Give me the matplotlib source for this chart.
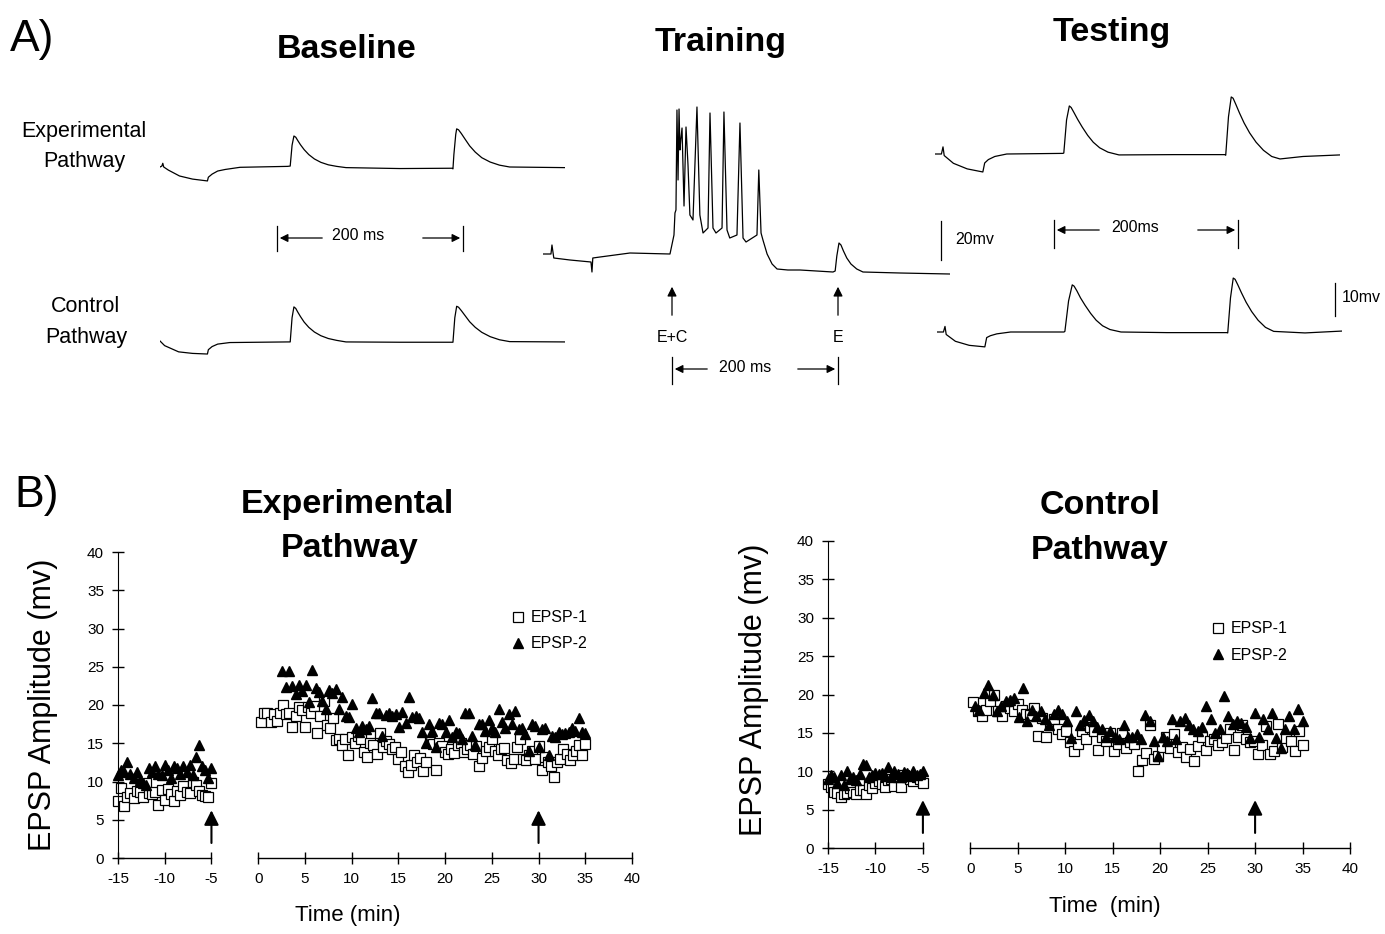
import numpy as np
import matplotlib
matplotlib.use("Agg")
import matplotlib.pyplot as plt

plt.rcParams['font.family'] = ['Liberation Sans', 'DejaVu Sans']
plt.rcParams['axes.unicode_minus'] = False

W, H = 1385, 934

# ---------------- Panel A: example traces (time in ms, potential in mV) ----------------
base_exp_t = [0, 2, 3, 4, 9, 21, 35, 51, 52, 56, 62, 70, 86, 137, 140, 142, 144, 146, 148, 151,
              155, 160, 166, 173, 181, 190, 200, 258, 314, 315, 316, 318, 319, 321, 324, 328,
              333, 339, 346, 355, 365, 376, 435]
base_exp_v = [0, 0.3, 1.2, 0, -1.0, -2.9, -3.9, -4.5, -3.3, -2.3, -1.3, -0.8, -0.1, 0.2, 0.3, 7,
              10, 9.6, 8.6, 7.2, 5.6, 4.0, 2.6, 1.5, 0.7, 0.2, -0.2, -0.5, -0.4, -0.6, 4, 10.5,
              12.3, 12.0, 10.8, 9.0, 6.8, 4.8, 3.0, 1.6, 0.6, 0, -0.2]

base_ctl_t = [0, 5, 20, 35, 51, 52, 56, 62, 75, 137, 140, 142, 144, 146, 148, 151, 155, 160, 166,
              173, 181, 190, 200, 258, 315, 317, 319, 321, 324, 328, 333, 339, 346, 355, 365,
              376, 435]
base_ctl_v = [0, -1.5, -3.5, -4.0, -4.2, -2.8, -1.8, -1.0, -0.5, -0.3, -0.3, 7.5, 11.0, 10.5,
              9.4, 7.9, 6.1, 4.4, 2.9, 1.7, 0.8, 0.2, -0.3, -0.4, -0.4, 7.5, 11.2, 10.9, 9.8,
              8.2, 6.2, 4.4, 2.8, 1.4, 0.4, -0.2, -0.3]

train_t = [0, 9.6, 10.8, 13, 32.5, 57.8, 59, 60, 68.7, 104.8, 153, 157.8, 159, 160.2, 161.4,
           162.7, 163.9, 165, 166, 167.5, 169.9, 172.3, 174.7, 177, 180.7, 185.5, 189, 192.8,
           198.8, 201.2, 204.8, 208.4, 215.7, 218, 221.7, 225, 233.7, 237.3, 241, 244.6, 257.8,
           260, 262.7, 265, 270, 276, 282, 295, 309.6, 349.4, 352, 354, 356.6, 359, 362, 366,
           371, 378, 385.5, 430, 490]
train_v = [0, 0, 4.5, -2, -3, -4, -9, -2, -1.5, 0.5, 0, 9.5, 20.5, 22, 72, 37, 72.5, 52, 57, 63,
           24, 63.5, 44.5, 19.5, 17, 73.5, 19.5, 10.5, 13, 70.5, 13, 10.5, 13, 71, 12, 8, 9.5,
           65.5, 8, 6, 9.5, 42, 10.5, 7, 0, -5, -7.5, -8, -8, -9, -8.5, -1, 5.5, 4.5, 1.5, -2,
           -5, -7.5, -9, -9.5, -10]

test_exp_t = [0, 7, 8.7, 10, 20, 35, 52, 54, 58, 65, 78, 139, 140, 143, 146, 148, 151, 155, 160,
              166, 172, 179, 188, 200, 260, 315, 316, 319, 322, 324, 327, 331, 336, 342, 349,
              357, 366, 375, 400, 440]
test_exp_v = [0, 0, 2.3, -0.5, -3.0, -4.8, -5.8, -2.9, -1.8, -0.8, 0, 0.2, 0.3, 11, 15.5, 15.0,
              13.4, 11.2, 8.7, 6.0, 3.8, 2.0, 0.6, -0.3, -0.2, -0.2, -0.4, 12, 18.4, 18.0, 16.0,
              13.2, 10.0, 6.8, 3.8, 1.2, -0.8, -1.6, -0.8, -0.3]

test_ctl_t = [0, 7, 8.7, 10, 20, 35, 52, 54, 58, 65, 80, 138, 139, 143, 147, 149, 152, 156, 161,
              167, 173, 180, 188, 200, 250, 315, 316, 319, 322, 324, 327, 331, 336, 342, 349,
              357, 366, 400, 440]
test_ctl_v = [0, 0, 1.8, -0.8, -3.0, -4.3, -4.8, -1.8, -1.2, -0.6, 0, 0, 0.2, 10, 15.2, 14.8,
              13.3, 11.0, 8.6, 6.0, 3.8, 2.0, 0.8, 0, -0.2, -0.2, -0.3, 11, 17.4, 17.0, 15.2,
              12.6, 9.6, 6.6, 3.8, 1.5, 0.2, -0.3, 0.3]

# ---------------- Panel B: EPSP amplitudes (mV) ----------------
exp_pre1 = [7.5, 9.2, 6.8, 8.0, 8.5, 7.8, 8.8, 8.6, 8.0, 9.8, 8.5, 8.4, 8.6, 6.9, 8.9, 7.6,
            9.0, 8.4, 7.5, 8.8, 8.3, 9.4, 8.6, 8.5, 9.9, 9.5, 8.7, 8.3, 8.1, 8.0, 9.8]
exp_pre2 = [10.8, 11.5, 11.3, 12.5, 11.0, 10.5, 11.2, 10.2, 9.8, 9.5, 11.8, 11.2, 12.0, 11.0,
            10.8, 12.2, 11.5, 10.5, 12.0, 11.8, 11.0, 12.0, 11.2, 12.2, 10.8, 13.2, 14.8, 12.0,
            11.5, 10.5, 11.8]
exp_post1 = [17.8, 19.0, 19.0, 17.8, 18.8, 17.9, 18.9, 20.0, 18.8, 19.0,
             17.1, 18.5, 19.8, 19.4, 17.1, 19.8, 18.9, 19.9, 16.3, 18.5,
             20.5, 17.4, 17.0, 18.3, 15.4, 15.6, 14.8, 15.5, 13.5, 15.8,
             15.0, 16.0, 15.5, 13.8, 13.2, 15.0, 14.8, 13.6, 16.4, 14.5,
             15.3, 14.9, 14.2, 14.5, 13.0, 13.8, 12.0, 11.2, 12.2, 13.5,
             12.5, 13.1, 11.4, 12.6, 15.1, 14.9, 11.5, 15.0, 14.6, 13.9,
             13.6, 14.2, 13.7, 14.8, 15.0, 13.8, 14.2, 14.8, 13.6, 14.6,
             12.0, 13.1, 14.0, 14.5, 15.6, 14.0, 13.5, 14.3, 14.4, 12.8,
             12.4, 13.0, 14.5, 15.6, 13.0, 12.8, 13.4, 14.0, 12.9, 14.6,
             11.5, 13.2, 12.6, 12.0, 10.6, 12.6, 13.0, 14.2, 13.6, 12.8,
             13.5, 14.0, 14.8, 13.4, 14.9]
exp_post2 = [24.5, 22.3, 24.5, 22.5, 21.5, 22.6, 21.8, 22.6, 20.4, 24.6,
             22.2, 21.7, 20.5, 19.5, 22.0, 21.6, 22.1, 19.5, 21.0, 18.5,
             18.4, 20.1, 17.0, 16.5, 17.3, 16.8, 17.2, 20.9, 18.9, 19.0,
             16.0, 18.7, 18.9, 18.5, 18.8, 17.1, 19.1, 17.6, 21.0, 18.4,
             18.6, 18.3, 16.5, 15.0, 17.5, 16.6, 14.5, 17.6, 17.5, 16.5,
             18.0, 15.8, 16.5, 16.3, 15.5, 19.0, 19.0, 16.0, 14.8, 17.5,
             17.5, 16.6, 18.0, 17.0, 16.5, 19.5, 17.8, 17.0, 18.8, 17.5,
             19.2, 16.8, 17.0, 16.2, 14.0, 17.5, 17.2, 14.5, 16.8, 17.0,
             13.5, 16.0, 15.8, 16.5, 16.2, 16.4, 16.5, 17.0, 16.6, 18.3,
             16.5, 16.3]

ctl_pre1 = [8.4, 8.0, 7.3, 7.2, 6.6, 7.0, 7.2, 7.8, 7.3, 7.0, 7.5, 7.6, 7.0, 8.2, 7.8, 8.5,
            8.7, 8.3, 8.0, 8.8, 9.0, 8.1, 9.2, 8.0, 9.5, 9.3, 9.0, 8.7, 9.3, 9.0, 8.5]
ctl_pre2 = [9.0, 9.5, 9.3, 8.5, 9.5, 8.2, 10.0, 9.0, 9.2, 8.8, 9.6, 11.0, 10.8, 9.2, 9.5, 9.8,
            9.6, 9.8, 9.4, 10.5, 9.2, 10.0, 9.6, 9.2, 9.9, 9.8, 9.4, 10.0, 9.5, 9.6, 10.0]
ctl_post1 = [19.0, 17.9, 17.2, 18.0, 19.2, 20.0, 17.8, 17.2, 18.5, 18.3,
             17.8, 18.8, 18.0, 17.5, 17.3, 18.2, 14.6, 17.0, 14.4, 16.0,
             16.8, 15.5, 14.8, 15.2, 13.8, 12.7, 13.5, 15.3, 14.2, 15.8,
             15.2, 12.8, 14.5, 14.0, 15.0, 12.7, 13.5, 15.0, 13.0, 13.8,
             13.5, 10.0, 11.5, 12.4, 16.0, 11.6, 12.0, 13.2, 14.5, 13.0,
             14.8, 12.5, 13.2, 11.8, 12.9, 11.3, 13.3, 14.5, 12.8, 14.0,
             14.2, 13.4, 13.8, 14.3, 15.5, 12.8, 14.5, 16.0, 14.2, 13.8,
             14.0, 12.3, 13.4, 15.9, 12.2, 12.6, 16.2, 13.2, 14.3, 14.0,
             12.6, 15.2, 13.4]
ctl_post2 = [18.5, 18.0, 20.2, 21.2, 20.0, 17.8, 18.5, 19.2, 19.3, 19.5,
             17.1, 20.9, 16.5, 18.0, 17.2, 17.8, 16.8, 16.0, 17.5, 18.0,
             17.5, 16.5, 14.3, 17.8, 16.0, 16.7, 17.3, 16.5, 15.8, 15.5,
             14.5, 15.3, 14.5, 14.2, 16.0, 14.5, 14.5, 14.8, 14.2, 17.3,
             16.5, 14.0, 12.0, 14.5, 14.0, 16.8, 14.2, 16.5, 17.0, 16.0,
             15.5, 15.3, 15.8, 18.5, 16.8, 15.0, 15.5, 19.8, 17.2, 16.2,
             16.5, 16.3, 15.8, 14.3, 17.6, 14.5, 16.8, 15.5, 17.6, 14.3,
             13.0, 15.5, 17.2, 15.5, 18.1, 16.5]

arrow_times = [-5, 30]
xticks = list(range(-15, 45, 5))
yticks = list(range(0, 45, 5))

fig = plt.figure(figsize=(W / 100, H / 100), dpi=100)

# overlay in pixel coordinates for labels and scale bars
ov = fig.add_axes([0, 0, 1, 1])
ov.set_xlim(0, W)
ov.set_ylim(H, 0)
ov.axis('off')
ov.set_zorder(10)


def trace_axes(x0, y0, px_ms, px_mv, w_ms, lo, hi):
    top = y0 - hi * px_mv
    bot = y0 - lo * px_mv
    ax = fig.add_axes([x0 / W, 1 - bot / H, w_ms * px_ms / W, (bot - top) / H])
    ax.set_xlim(0, w_ms)
    ax.set_ylim(lo, hi)
    ax.axis('off')
    return ax


traces = [
    (base_exp_t, base_exp_v, 160, 167, 0.93, 3.1, 435),
    (base_ctl_t, base_ctl_v, 160, 341, 0.93, 3.1, 435),
    (train_t, train_v, 543, 254, 0.83, 2.0, 490),
    (test_exp_t, test_exp_v, 935, 154, 0.92, 3.1, 440),
    (test_ctl_t, test_ctl_v, 937, 332, 0.92, 3.1, 440),
]
for t, v, x0, y0, pms, pmv, wms in traces:
    ta = trace_axes(x0, y0, pms, pmv, wms, min(v) - 2, max(v) + 2)
    ta.plot(t, v, color='black', lw=0.9)

arr = dict(arrowstyle='-|>', color='black', lw=0.9, mutation_scale=12)


def span_bar(x1, x2, y, t0, t1, label, lx, le, rs):
    ov.plot([x1, x1], [t0, t1], color='black', lw=0.9)
    ov.plot([x2, x2], [t0, t1], color='black', lw=0.9)
    ov.annotate('', xy=(x1, y), xytext=(le, y), arrowprops=arr)
    ov.annotate('', xy=(x2, y), xytext=(rs, y), arrowprops=arr)
    ov.text(lx, y - 2, label, ha='center', va='center', fontsize=11.5)


span_bar(277, 463, 238, 226, 251, '200 ms', 358, 325, 420)
span_bar(672, 838, 369, 357, 384, '200 ms', 745, 710, 795)
span_bar(1054, 1238, 230, 220, 248, '200ms', 1135, 1102, 1195)

for x, lab in [(672, 'E+C'), (838, 'E')]:
    ov.annotate('', xy=(x, 284), xytext=(x, 318),
                arrowprops=dict(arrowstyle='-|>', color='black', lw=0.9, mutation_scale=14))
    ov.text(x, 337, lab, ha='center', va='center', fontsize=11.5)

ov.plot([941, 941], [221, 260], color='black', lw=0.9)
ov.text(955, 240, '20mv', ha='left', va='center', fontsize=11.5)
ov.plot([1335, 1335], [283, 316], color='black', lw=0.9)
ov.text(1342, 298, '10mv', ha='left', va='center', fontsize=11.5)

ov.text(10, 40, 'A)', fontsize=32, ha='left', va='center')
ov.text(14, 495, 'B)', fontsize=32, ha='left', va='center')
for x, y, s in [(347, 50, 'Baseline'), (721, 42, 'Training'), (1112, 32, 'Testing'),
                (347, 505, 'Experimental'), (350, 549, 'Pathway'),
                (1100, 505, 'Control'), (1100, 550, 'Pathway')]:
    ov.text(x, y, s, fontsize=24.5, fontweight='bold', ha='center', va='center')
for x, y, s in [(84, 131, 'Experimental'), (84, 161, 'Pathway'),
                (86, 307, 'Control'), (86, 337, 'Pathway')]:
    ov.text(x, y, s, fontsize=15.5, ha='center', va='center')


def epsp_axes(rect, pre1, pre2, post1, post2, post2_start, xlabel, xl_pos, yl_pos, leg_pos):
    ax = fig.add_axes(rect)
    ax.patch.set_visible(False)
    ax.plot(np.linspace(-15, -5, len(pre1)), pre1, 's', ms=6.5, mfc='white', mec='black',
            mew=0.9, label='EPSP-1', clip_on=False)
    ax.plot(np.linspace(0.33, 35, len(post1)), post1, 's', ms=6.5, mfc='white', mec='black',
            mew=0.9, clip_on=False)
    ax.plot(np.linspace(-15, -5, len(pre2)), pre2, '^', ms=7.5, color='black',
            label='EPSP-2', clip_on=False)
    ax.plot(np.linspace(post2_start, 35, len(post2)), post2, '^', ms=7.5, color='black',
            clip_on=False)
    for t in arrow_times:
        ax.annotate('', xy=(t, 6.6), xytext=(t, 1.6),
                    arrowprops=dict(arrowstyle='-|>', color='black', lw=1.5, mutation_scale=22))
    ax.set_xlim(-15, 40)
    ax.set_ylim(0, 40)
    for s in ['top', 'right', 'bottom']:
        ax.spines[s].set_visible(False)
    ax.plot([-15, -5], [0, 0], color='black', lw=1.0, clip_on=False)
    ax.plot([0, 40], [0, 0], color='black', lw=1.0, clip_on=False)
    ax.set_xticks(xticks)
    ax.set_yticks(yticks)
    ax.tick_params(direction='inout', length=8, width=1, labelsize=11, pad=6)
    ax.set_xlabel(xlabel, fontsize=16)
    ax.xaxis.set_label_coords(*xl_pos)
    ax.set_ylabel('EPSP Amplitude (mv)', fontsize=22)
    ax.yaxis.set_label_coords(*yl_pos)
    ax.legend(loc='upper left', bbox_to_anchor=leg_pos, frameon=False, fontsize=11.5,
              handletextpad=0.3, labelspacing=0.7, handlelength=1.0, borderpad=0)
    return ax


epsp_axes([118 / W, 1 - 858 / H, 514 / W, 306 / H], exp_pre1, exp_pre2, exp_post1, exp_post2,
          2.6, 'Time (min)', (0.447, -0.152), (-0.117, 0.5), (0.748, 0.836))
epsp_axes([828 / W, 1 - 848 / H, 522 / W, 307 / H], ctl_pre1, ctl_pre2, ctl_post1, ctl_post2,
          0.5, 'Time  (min)', (0.531, -0.155), (-0.113, 0.515), (0.716, 0.764))

fig.savefig('out.png', dpi=100)
